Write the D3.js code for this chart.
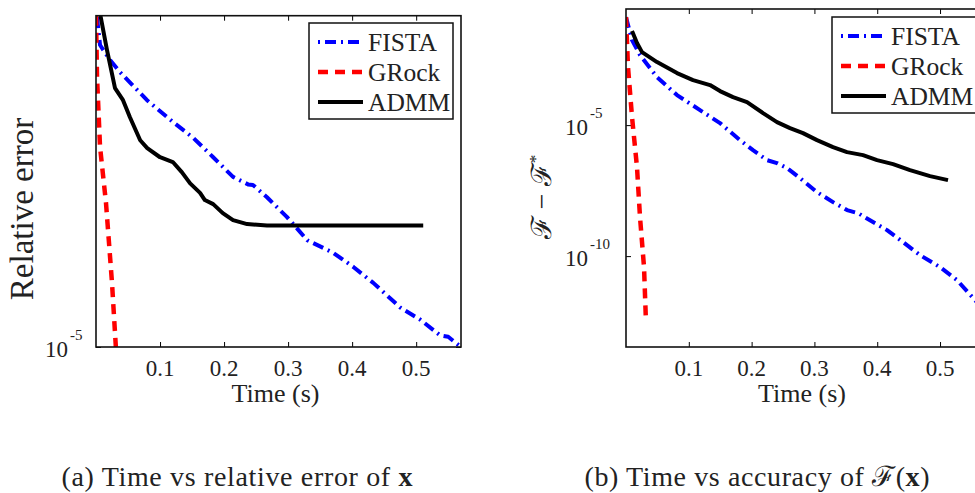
<!DOCTYPE html>
<html>
<head>
<meta charset="utf-8">
<script src="https://cdn.jsdelivr.net/npm/d3@7"></script>
<style>
  html, body { margin: 0; padding: 0; background: #fff; }
  svg { display: block; }
  svg text { font-family: "Liberation Serif", "Times New Roman", serif; }
</style>
</head>
<body>
<svg id="chart" width="975" height="493"></svg>
<script>
// ---------------- DATA ----------------
const seriesNames = ["FISTA", "GRock", "ADMM"];
const xTicks = [0.1, 0.2, 0.3, 0.4, 0.5];
const xTickLabels = ["0.1", "0.2", "0.3", "0.4", "0.5"];
const xDomain = [0, 0.57];

// Panel (a): time vs relative error of x
const yDomainA = [1e-5, 9e-5];
const yTicksA = [1e-5];
const yTickExpA = ["-5"];
const timeFistaA = [0.0016, 0.0063, 0.0219, 0.0375, 0.0797, 0.120, 0.152, 0.183, 0.214, 0.2375, 0.245, 0.267, 0.298, 0.330, 0.370, 0.402, 0.433, 0.475, 0.506, 0.5375, 0.550, 0.570];
const errFistaA  = [8.91e-5, 7.41e-5, 6.71e-5, 6.19e-5, 5.14e-5, 4.45e-5, 4.00e-5, 3.52e-5, 3.09e-5, 2.94e-5, 2.93e-5, 2.70e-5, 2.37e-5, 2.03e-5, 1.87e-5, 1.70e-5, 1.53e-5, 1.30e-5, 1.20e-5, 1.08e-5, 1.07e-5, 1.00e-5];
const timeGrockA = [0.0, 0.0016, 0.0063, 0.0156, 0.025, 0.031, 0.033];
const errGrockA  = [9.0e-5, 6.0e-5, 3.77e-5, 2.60e-5, 1.53e-5, 1.0e-5, 9.1e-6];
const timeAdmmA  = [0.006, 0.0172, 0.0297, 0.0422, 0.053, 0.069, 0.080, 0.100, 0.120, 0.134, 0.147, 0.1625, 0.170, 0.183, 0.198, 0.214, 0.236, 0.267, 0.511];
const errAdmmA   = [9.2e-5, 7.16e-5, 5.57e-5, 5.14e-5, 4.59e-5, 3.94e-5, 3.74e-5, 3.52e-5, 3.41e-5, 3.19e-5, 2.96e-5, 2.78e-5, 2.65e-5, 2.58e-5, 2.43e-5, 2.32e-5, 2.26e-5, 2.24e-5, 2.24e-5];

// Panel (b): time vs accuracy of F(x)
const yDomainB = [3.4e-14, 0.27];
const yTicksB = [1e-5, 1e-10];
const yTickExpB = ["-5", "-10"];
const timeFistaB = [0.0, 0.0096, 0.0223, 0.0494, 0.0812, 0.1178, 0.1497, 0.1815, 0.2022, 0.2245, 0.2404, 0.2564, 0.2771, 0.3041, 0.3296, 0.3519, 0.3694, 0.3933, 0.4156, 0.4411, 0.4682, 0.500, 0.5271, 0.5557, 0.570];
const gapFistaB  = [0.132, 1.75e-2, 4.70e-3, 6.79e-4, 1.40e-4, 3.74e-5, 1.19e-5, 2.67e-6, 1.11e-6, 4.62e-7, 3.55e-7, 2.29e-7, 9.48e-8, 2.77e-8, 1.15e-8, 5.70e-9, 4.38e-9, 1.99e-9, 9.82e-10, 3.42e-10, 1.09e-10, 3.80e-11, 1.21e-11, 2.09e-12, 8.7e-13];
const timeGrockB = [0.0, 0.0032, 0.0096, 0.0175, 0.0223, 0.0287, 0.0318];
const gapGrockB  = [0.132, 1.64e-3, 2.02e-5, 2.49e-7, 3.08e-9, 3.80e-11, 3.03e-13];
const timeAdmmB  = [0.0096, 0.0175, 0.0255, 0.0494, 0.0812, 0.1067, 0.1338, 0.1497, 0.1704, 0.1927, 0.2182, 0.2404, 0.2611, 0.2818, 0.3041, 0.3296, 0.3519, 0.3774, 0.3997, 0.4252, 0.4522, 0.4841, 0.5127];
const gapAdmmB   = [3.87e-2, 1.35e-2, 6.11e-3, 2.54e-3, 9.66e-4, 5.22e-4, 3.37e-4, 1.99e-4, 1.17e-4, 7.55e-5, 2.87e-5, 1.30e-5, 7.68e-6, 4.95e-6, 2.67e-6, 1.45e-6, 9.31e-7, 7.16e-7, 4.62e-7, 3.24e-7, 1.91e-7, 1.13e-7, 7.96e-8];

const captionA = ["(a) Time vs relative error of ", "x"];
const captionB = ["(b) Time vs accuracy of ℱ(", "x", ")"];

// ---------------- STYLES ----------------
const SERIF = "Liberation Serif";
const styles = {
  FISTA: { color: "#0000ff", width: 4, dash: "11,5,2,5" },
  GRock: { color: "#ff0000", width: 4.5, dash: "10,7" },
  ADMM:  { color: "#000000", width: 4, dash: null }
};

const svg = d3.select("#chart");

function zip(t, v) { return t.map((d, i) => [d, v[i]]); }

function panel(cfg) {
  const x = d3.scaleLinear().domain(xDomain).range([cfg.left, cfg.right]);
  const y = d3.scaleLog().domain(cfg.yDomain).range([cfg.bottom, cfg.top]);
  const g = svg.append("g");

  const clipId = "clip" + cfg.id;
  svg.append("defs").append("clipPath").attr("id", clipId)
    .append("rect").attr("x", cfg.left).attr("y", cfg.top)
    .attr("width", cfg.right - cfg.left).attr("height", cfg.bottom - cfg.top);

  // ticks (inward, mirrored)
  const tickStyle = sel => { sel.select(".domain").remove(); sel.selectAll("line").attr("stroke", "#000").attr("stroke-width", 1); sel.selectAll("text").remove(); };
  g.append("g").attr("transform", `translate(0,${cfg.bottom})`)
    .call(d3.axisBottom(x).tickValues(xTicks).tickSize(-5).tickFormat("")).call(tickStyle);
  g.append("g").attr("transform", `translate(0,${cfg.top})`)
    .call(d3.axisTop(x).tickValues(xTicks).tickSize(-5).tickFormat("")).call(tickStyle);
  g.append("g").attr("transform", `translate(${cfg.left},0)`)
    .call(d3.axisLeft(y).tickValues(cfg.yTicks).tickSize(-5).tickFormat("")).call(tickStyle);
  g.append("g").attr("transform", `translate(${cfg.right},0)`)
    .call(d3.axisRight(y).tickValues(cfg.yTicks).tickSize(-5).tickFormat("")).call(tickStyle);

  // x tick labels
  g.selectAll(".xl").data(xTicks).enter().append("text")
    .attr("x", d => x(d)).attr("y", cfg.bottom + 29)
    .attr("font-family", SERIF)
    .attr("text-anchor", "middle").attr("font-size", 23).attr("fill", "#222")
    .text((d, i) => xTickLabels[i]);

  // y tick labels 10^n
  cfg.yTicks.forEach((t, i) => {
    const tx = g.append("text").attr("fill", "#222").attr("font-family", SERIF);
    tx.append("tspan").attr("x", cfg.left - cfg.yLabOff).attr("y", y(t) + 10)
      .attr("text-anchor", "end").attr("font-size", 23).text("10");
    tx.append("tspan").attr("x", cfg.left - cfg.yLabOff + 2).attr("y", y(t) - 7)
      .attr("font-size", 15).text(cfg.yTickExp[i]);
  });

  // lines
  const line = d3.line().x(d => x(d[0])).y(d => y(d[1]));
  const lines = g.append("g").attr("clip-path", `url(#${clipId})`);
  cfg.series.forEach(s => {
    const st = styles[s.name];
    lines.append("path").datum(zip(s.t, s.v))
      .attr("d", line).attr("fill", "none")
      .attr("stroke", st.color).attr("stroke-width", st.width)
      .attr("stroke-dasharray", st.dash)
      .attr("stroke-linejoin", "round");
  });

  // frame
  g.append("rect").attr("x", cfg.left).attr("y", cfg.top)
    .attr("width", cfg.right - cfg.left).attr("height", cfg.bottom - cfg.top)
    .attr("fill", "none").attr("stroke", "#111").attr("stroke-width", 1.6);

  // axis label
  g.append("text").attr("x", (cfg.left + cfg.right) / 2 - cfg.xLabShift).attr("y", cfg.bottom + 55)
    .attr("font-family", SERIF)
    .attr("text-anchor", "middle").attr("font-size", 26).attr("fill", "#222").text("Time (s)");

  // legend
  const lg = g.append("g");
  lg.append("rect").attr("x", cfg.legX).attr("y", cfg.legY)
    .attr("width", cfg.legW).attr("height", cfg.legH)
    .attr("fill", "#fff").attr("stroke", "#111").attr("stroke-width", 1.5);
  seriesNames.forEach((n, i) => {
    const st = styles[n];
    const ly = cfg.legY + 19 + i * 30;
    lg.append("line").attr("x1", cfg.legX + 9).attr("x2", cfg.legX + 54)
      .attr("y1", ly).attr("y2", ly)
      .attr("stroke", st.color).attr("stroke-width", st.width)
      .attr("stroke-dasharray", n === "FISTA" ? "2,5,11,5" : st.dash);
    lg.append("text").attr("x", cfg.legX + 59).attr("y", ly + 9)
      .attr("font-family", SERIF)
      .attr("font-size", 25.5).attr("fill", "#222").text(n);
  });
  return g;
}

const gA = panel({
  id: "A", left: 96, right: 461, top: 15.7, bottom: 347,
  yDomain: yDomainA, yTicks: yTicksA, yTickExp: yTickExpA, yLabOff: 28, xLabShift: 3,
  legX: 309, legY: 23, legW: 144, legH: 96,
  series: [
    { name: "FISTA", t: timeFistaA, v: errFistaA },
    { name: "GRock", t: timeGrockA, v: errGrockA },
    { name: "ADMM",  t: timeAdmmA,  v: errAdmmA }
  ]
});
gA.append("text").attr("transform", "translate(33,209) rotate(-90)")
  .attr("font-family", SERIF)
  .attr("text-anchor", "middle").attr("font-size", 33).attr("fill", "#222").text("Relative error");

const gB = panel({
  id: "B", left: 626, right: 984, top: 9, bottom: 347,
  yDomain: yDomainB, yTicks: yTicksB, yTickExp: yTickExpB, yLabOff: 38, xLabShift: 3,
  legX: 832, legY: 17, legW: 152, legH: 96,
  series: [
    { name: "FISTA", t: timeFistaB, v: gapFistaB },
    { name: "GRock", t: timeGrockB, v: gapGrockB },
    { name: "ADMM",  t: timeAdmmB,  v: gapAdmmB }
  ]
});
const yl = gB.append("text").attr("transform", "translate(551,197) rotate(-90)")
  .attr("font-family", SERIF)
  .attr("text-anchor", "middle").attr("font-size", 28).attr("fill", "#222");
yl.append("tspan").text("ℱ − ℱ");
yl.append("tspan").attr("dy", -10).attr("font-size", 17).text("*");

// captions
const cA = svg.append("text").attr("x", 237).attr("y", 486).attr("text-anchor", "middle")
  .attr("font-family", SERIF)
  .attr("font-size", 28).attr("fill", "#222")
  .attr("textLength", 351).attr("lengthAdjust", "spacing");
cA.append("tspan").text(captionA[0]);
cA.append("tspan").attr("font-weight", "bold").text(captionA[1]);

const cB = svg.append("text").attr("x", 757).attr("y", 486).attr("text-anchor", "middle")
  .attr("font-family", SERIF)
  .attr("font-size", 28).attr("fill", "#222")
  .attr("textLength", 345).attr("lengthAdjust", "spacing");
cB.append("tspan").text(captionB[0]);
cB.append("tspan").attr("font-weight", "bold").text(captionB[1]);
cB.append("tspan").text(captionB[2]);
</script>
</body>
</html>
